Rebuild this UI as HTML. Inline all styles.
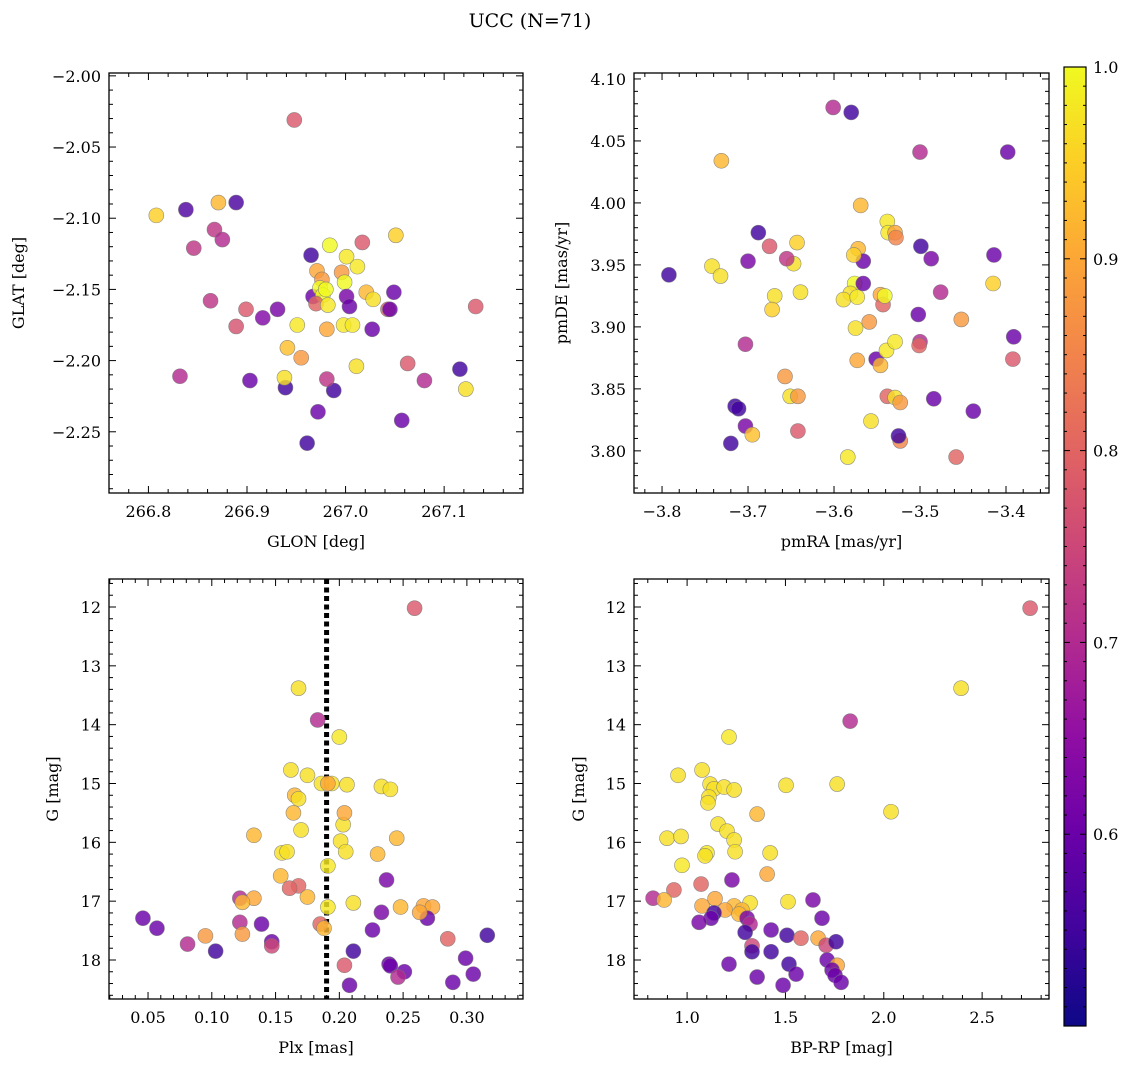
<!DOCTYPE html>
<html><head><meta charset="utf-8">
<style>
html,body{margin:0;padding:0;background:#fff;}
svg{display:block;font-family:"DejaVu Serif","Liberation Serif",serif;}
</style></head>
<body>
<svg id="fig" width="1136" height="1067" viewBox="0 0 1136 1067">
<text x="530" y="27" font-size="19" text-anchor="middle">UCC (N=71)</text>
<defs>
<linearGradient id="plasma" x1="0" y1="1" x2="0" y2="0">
<stop offset="0" stop-color="#0d0887"/><stop offset="0.1" stop-color="#41049d"/><stop offset="0.2" stop-color="#6a00a8"/><stop offset="0.3" stop-color="#8f0da4"/><stop offset="0.4" stop-color="#b12a90"/><stop offset="0.5" stop-color="#cc4778"/><stop offset="0.6" stop-color="#e16462"/><stop offset="0.7" stop-color="#f2844b"/><stop offset="0.8" stop-color="#fca636"/><stop offset="0.9" stop-color="#fcce25"/><stop offset="1" stop-color="#f0f921"/>
</linearGradient>
</defs>
</svg>
<script>
// ---- data ----
const glon=[266.948,266.808,266.838,266.871,266.889,266.867,266.875,266.846,266.863,266.899,266.931,266.916,266.889,266.832,266.903,266.939,266.938,266.941,266.951,266.955,266.972,266.961,266.965,266.984,267.001,267.012,267.017,267.051,266.967,266.971,266.976,266.974,266.977,266.970,266.980,266.982,266.981,266.996,266.999,267.001,267.004,266.998,267.007,266.988,266.981,267.011,267.021,267.028,267.027,267.043,267.049,267.063,267.057,267.080,267.116,267.122,267.132,267.045];
const glat=[-2.031,-2.098,-2.094,-2.089,-2.089,-2.108,-2.115,-2.121,-2.158,-2.164,-2.164,-2.170,-2.176,-2.211,-2.214,-2.219,-2.212,-2.191,-2.175,-2.198,-2.236,-2.258,-2.126,-2.119,-2.127,-2.134,-2.117,-2.112,-2.155,-2.137,-2.143,-2.149,-2.154,-2.160,-2.150,-2.161,-2.178,-2.138,-2.145,-2.155,-2.162,-2.175,-2.175,-2.221,-2.213,-2.204,-2.152,-2.157,-2.178,-2.164,-2.152,-2.202,-2.242,-2.214,-2.206,-2.220,-2.162,-2.164];
const prob1=[0.78,0.95,0.57,0.92,0.56,0.72,0.7,0.72,0.72,0.78,0.62,0.63,0.77,0.7,0.6,0.55,0.97,0.93,0.98,0.88,0.6,0.55,0.55,1.0,0.98,0.98,0.78,0.95,0.6,0.9,0.88,1.0,1.0,0.8,1.0,0.98,0.9,0.88,1.0,0.62,0.6,0.98,0.98,0.55,0.72,0.97,0.92,0.97,0.6,0.8,0.6,0.78,0.6,0.7,0.55,0.97,0.78,0.6];

const pmra=[-3.792,-3.742,-3.732,-3.731,-3.688,-3.700,-3.647,-3.675,-3.655,-3.669,-3.672,-3.703,-3.715,-3.711,-3.703,-3.720,-3.695,-3.657,-3.651,-3.642,-3.642,-3.643,-3.639,-3.601,-3.580,-3.569,-3.572,-3.566,-3.577,-3.576,-3.581,-3.589,-3.573,-3.566,-3.559,-3.575,-3.573,-3.551,-3.546,-3.539,-3.557,-3.584,-3.546,-3.543,-3.541,-3.538,-3.537,-3.529,-3.528,-3.529,-3.538,-3.529,-3.523,-3.523,-3.525,-3.502,-3.500,-3.501,-3.500,-3.499,-3.487,-3.484,-3.476,-3.452,-3.438,-3.458,-3.414,-3.415,-3.398,-3.391,-3.392];
const pmde=[3.942,3.949,3.941,4.034,3.976,3.953,3.951,3.965,3.955,3.925,3.914,3.886,3.836,3.834,3.820,3.806,3.813,3.860,3.844,3.844,3.816,3.968,3.928,4.077,4.073,3.998,3.963,3.953,3.958,3.935,3.927,3.922,3.924,3.935,3.904,3.899,3.873,3.874,3.869,3.881,3.824,3.795,3.926,3.918,3.925,3.985,3.976,3.976,3.972,3.888,3.844,3.843,3.839,3.808,3.812,3.910,3.888,3.885,4.041,3.965,3.955,3.842,3.928,3.906,3.832,3.795,3.958,3.935,4.041,3.892,3.874];
const prob2=[0.55,0.97,0.97,0.92,0.55,0.62,0.97,0.78,0.72,0.97,0.95,0.7,0.55,0.55,0.62,0.55,0.93,0.88,0.97,0.88,0.78,0.95,0.97,0.7,0.55,0.92,0.92,0.6,0.95,1.0,0.97,0.97,0.98,0.6,0.88,0.97,0.9,0.6,0.92,0.98,0.97,0.98,0.9,0.8,1.0,0.98,0.98,0.9,0.85,0.98,0.8,0.97,0.88,0.85,0.55,0.6,0.7,0.8,0.7,0.55,0.62,0.6,0.7,0.88,0.6,0.8,0.6,0.95,0.6,0.6,0.78];

const plx=[0.259,0.168,0.183,0.200,0.162,0.175,0.165,0.168,0.164,0.186,0.194,0.191,0.206,0.233,0.240,0.201,0.203,0.170,0.133,0.204,0.205,0.245,0.230,0.155,0.159,0.191,0.154,0.237,0.168,0.161,0.175,0.133,0.122,0.124,0.211,0.191,0.248,0.266,0.273,0.233,0.269,0.263,0.046,0.057,0.122,0.139,0.185,0.188,0.124,0.226,0.081,0.095,0.147,0.147,0.103,0.285,0.316,0.211,0.204,0.239,0.240,0.299,0.251,0.246,0.305,0.208,0.289];
const gmag3=[12.02,13.38,13.92,14.21,14.77,14.86,15.20,15.26,15.50,15.00,15.00,15.00,15.02,15.05,15.10,15.98,15.70,15.79,15.88,15.50,16.16,15.93,16.20,16.18,16.16,16.40,16.57,16.64,16.74,16.78,16.93,16.95,16.95,17.02,17.03,17.10,17.10,17.08,17.10,17.19,17.29,17.19,17.29,17.46,17.36,17.39,17.39,17.46,17.56,17.49,17.73,17.59,17.69,17.76,17.85,17.64,17.58,17.85,18.09,18.07,18.10,17.97,18.20,18.29,18.24,18.43,18.38];
const prob3=[0.78,0.97,0.7,0.98,0.97,0.97,0.92,0.97,0.92,0.97,0.97,0.9,0.97,0.97,0.97,0.97,0.97,0.97,0.92,0.9,0.97,0.92,0.92,0.97,0.97,0.98,0.92,0.62,0.8,0.8,0.92,0.9,0.7,0.92,0.97,0.98,0.92,0.9,0.9,0.62,0.6,0.9,0.6,0.6,0.7,0.6,0.8,0.92,0.88,0.6,0.7,0.88,0.6,0.75,0.55,0.8,0.55,0.55,0.78,0.6,0.6,0.6,0.6,0.7,0.6,0.6,0.6];
const plxRef=[0.19];

const bprp=[2.744,2.393,1.829,1.213,0.954,1.076,1.117,1.137,1.111,1.106,1.188,1.239,1.503,1.763,1.356,1.157,1.203,1.239,0.898,0.969,2.037,1.422,1.244,1.101,1.091,0.974,1.407,1.228,1.071,0.933,1.640,0.827,0.883,1.142,1.076,1.513,1.320,1.239,1.279,1.193,1.264,1.137,1.122,1.061,1.305,1.686,1.320,1.295,1.508,1.427,1.579,1.666,1.707,1.757,1.330,1.330,1.427,1.712,1.763,1.213,1.518,1.737,1.356,1.554,1.752,1.783,1.488];
const gmag4=[12.02,13.38,13.94,14.21,14.86,14.77,15.01,15.09,15.23,15.33,15.06,15.11,15.03,15.01,15.52,15.69,15.81,15.96,15.93,15.90,15.48,16.18,16.16,16.18,16.23,16.39,16.54,16.64,16.71,16.81,16.98,16.95,16.98,16.96,17.08,17.01,17.03,17.08,17.15,17.15,17.22,17.20,17.29,17.36,17.29,17.29,17.39,17.53,17.58,17.49,17.63,17.63,17.75,17.69,17.76,17.86,17.86,18.00,18.09,18.07,18.07,18.17,18.29,18.24,18.26,18.38,18.43];
const prob4=[0.78,0.97,0.7,0.98,0.97,0.97,0.97,0.97,0.97,0.97,0.97,0.97,0.97,0.97,0.92,0.97,0.97,0.97,0.97,0.97,0.97,0.97,0.97,0.98,0.97,0.98,0.9,0.62,0.8,0.8,0.62,0.7,0.92,0.9,0.9,0.97,0.97,0.92,0.92,0.9,0.92,0.55,0.6,0.62,0.62,0.6,0.7,0.55,0.55,0.6,0.8,0.9,0.75,0.55,0.75,0.55,0.55,0.6,0.9,0.6,0.55,0.6,0.6,0.6,0.6,0.6,0.6];

const ticks1x=[266.8,266.9,267.0,267.1], ticks1y=[-2.00,-2.05,-2.10,-2.15,-2.20,-2.25];
const ticks2x=[-3.8,-3.7,-3.6,-3.5,-3.4], ticks2y=[3.80,3.85,3.90,3.95,4.00,4.05,4.10];
const ticks3x=[0.05,0.10,0.15,0.20,0.25,0.30], ticksGy=[12,13,14,15,16,17,18];
const ticks4x=[1.0,1.5,2.0,2.5];
const cbTicks=[0.6,0.7,0.8,0.9,1.0];

// ---- rendering ----
const NS="http://www.w3.org/2000/svg";
const svg=document.getElementById('fig');
function mk(tag,attrs,parent){const e=document.createElementNS(NS,tag);for(const k in attrs)e.setAttribute(k,attrs[k]);(parent||svg).appendChild(e);return e;}
const stops=[[13,8,135],[65,4,157],[106,0,168],[143,13,164],[177,42,144],[204,71,120],[225,100,98],[242,132,75],[252,166,54],[252,206,37],[240,249,33]];
const VMIN=0.5,VMAX=1.0;
function cmap(v){let t=Math.max(0,Math.min(1,(v-VMIN)/(VMAX-VMIN)))*10;const i=Math.min(9,Math.floor(t)),f=t-i;const a=stops[i],b=stops[i+1];return 'rgb('+a.map((c,k)=>Math.round(c+(b[k]-c)*f)).join(',')+')';}
function fmt(v,d){let s=v.toFixed(d);return s.replace('-','\u2212');}

function panel(cfg){
  const {L,T,R,B,xmin,xmax,ymin,ymax,xt,yt,xd,yd,xminor,yminor,xlab,ylab,ylabX,name}=cfg;
  const g=mk('g',{});
  
  
  const sx=v=>L+(v-xmin)/(xmax-xmin)*(R-L);
  const sy=v=>T+(v-ymax)/(ymin-ymax)*(B-T);
  cfg.sx=sx;cfg.sy=sy;cfg.g=g;
  // ticks
  const tg=mk('g',{stroke:'#000','stroke-width':1},g);
  const x0=Math.ceil(Math.min(xmin,xmax)/xminor-1e-6), x1=Math.floor(Math.max(xmin,xmax)/xminor+1e-6);
  for(let k=x0;k<=x1;k++){const v=k*xminor,px=sx(v);const maj=xt.some(t=>Math.abs(t-v)<xminor/10);const len=maj?7:4;
    mk('line',{x1:px,x2:px,y1:B,y2:B-len},tg);mk('line',{x1:px,x2:px,y1:T,y2:T+len},tg);}
  const lo=Math.min(ymin,ymax),hi=Math.max(ymin,ymax);
  const y0=Math.ceil(lo/yminor-1e-6), y1=Math.floor(hi/yminor+1e-6);
  for(let k=y0;k<=y1;k++){const v=k*yminor,py=sy(v);const maj=yt.some(t=>Math.abs(t-v)<yminor/10);const len=maj?7:4;
    mk('line',{x1:L,x2:L+len,y1:py,y2:py},tg);mk('line',{x1:R,x2:R-len,y1:py,y2:py},tg);}
  xt.forEach(v=>{const t=mk('text',{x:sx(v),y:B+24,'font-size':16,'text-anchor':'middle'},g);t.textContent=fmt(v,xd);
    
    });
  yt.forEach(v=>{const t=mk('text',{x:L-8,y:sy(v)+6,'font-size':16,'text-anchor':'end'},g);t.textContent=fmt(v,yd);
    
    });
  const xl=mk('text',{x:(L+R)/2,y:B+54,'font-size':16,'text-anchor':'middle'},g);xl.textContent=xlab;
  
  
  const yl=mk('text',{x:0,y:0,'font-size':16,'text-anchor':'middle',transform:'translate('+ylabX+','+((T+B)/2)+') rotate(-90)'},g);yl.textContent=ylab;
  
  
  return cfg;
}
function frame(cfg){const r=mk('rect',{x:cfg.L,y:cfg.T,width:cfg.R-cfg.L,height:cfg.B-cfg.T,fill:'none',stroke:'#000','stroke-width':1.3},cfg.g);
  
  }
function scatter(cfg,xs,ys,ps){
  const cg=mk('g',{'clip-path':''},cfg.g);
  xs.forEach((x,i)=>{const c=mk('circle',{cx:cfg.sx(x),cy:cfg.sy(ys[i]),r:7.5,fill:cmap(ps[i]),'fill-opacity':0.82,stroke:'#777','stroke-width':0.6,'stroke-opacity':0.8},cg);
    
    });
}

const p1=panel({name:'panel-glon-glat',L:109,T:73,R:523,B:493,xmin:266.76,xmax:267.18,ymin:-2.293,ymax:-1.998,xt:ticks1x,yt:ticks1y,xd:1,yd:2,xminor:0.02,yminor:0.01,xlab:'GLON [deg]',ylab:'GLAT [deg]',ylabX:24});
scatter(p1,glon,glat,prob1);frame(p1);
const p2=panel({name:'panel-pm',L:634,T:73,R:1049,B:493,xmin:-3.8326,xmax:-3.35,ymin:3.766,ymax:4.1048,xt:ticks2x,yt:ticks2y,xd:1,yd:2,xminor:0.02,yminor:0.01,xlab:'pmRA [mas/yr]',ylab:'pmDE [mas/yr]',ylabX:567});
scatter(p2,pmra,pmde,prob2);frame(p2);
const p3=panel({name:'panel-plx-g',L:109,T:579,R:523,B:999,xmin:0.0194,xmax:0.344,ymin:18.663,ymax:11.524,xt:ticks3x,yt:ticksGy,xd:2,yd:0,xminor:0.01,yminor:0.2,xlab:'Plx [mas]',ylab:'G [mag]',ylabX:58});
plxRef.forEach(v=>{const l=mk('line',{x1:p3.sx(v),x2:p3.sx(v),y1:579,y2:999,stroke:'#000','stroke-width':5,'stroke-dasharray':'5,3.5'},p3.g);
  
  });
scatter(p3,plx,gmag3,prob3);frame(p3);
const p4=panel({name:'panel-cmd',L:634,T:579,R:1049,B:999,xmin:0.73,xmax:2.84,ymin:18.663,ymax:11.524,xt:ticks4x,yt:ticksGy,xd:1,yd:0,xminor:0.1,yminor:0.2,xlab:'BP-RP [mag]',ylab:'G [mag]',ylabX:584});
scatter(p4,bprp,gmag4,prob4);frame(p4);

// colorbar
const cb=mk('g',{});


const CT=67,CB=1026,CL=1064,CR=1086;
mk('rect',{x:CL,y:CT,width:CR-CL,height:CB-CT,fill:'url(#plasma)',stroke:'#000','stroke-width':1.2},cb);
const cy=v=>CB-(v-VMIN)/(VMAX-VMIN)*(CB-CT);
for(let k=51;k<=100;k++){const v=k/100,py=cy(v);const maj=k%10===0;const len=maj?6:3;
  mk('line',{x1:CR,x2:CR-len,y1:py,y2:py,stroke:'#000','stroke-width':1},cb);mk('line',{x1:CL,x2:CL+len,y1:py,y2:py,stroke:'#000','stroke-width':1},cb);}
cbTicks.forEach(v=>{const t=mk('text',{x:CR+7,y:cy(v)+6,'font-size':16},cb);t.textContent=v.toFixed(1);
  
  });
</script>
</body></html>
